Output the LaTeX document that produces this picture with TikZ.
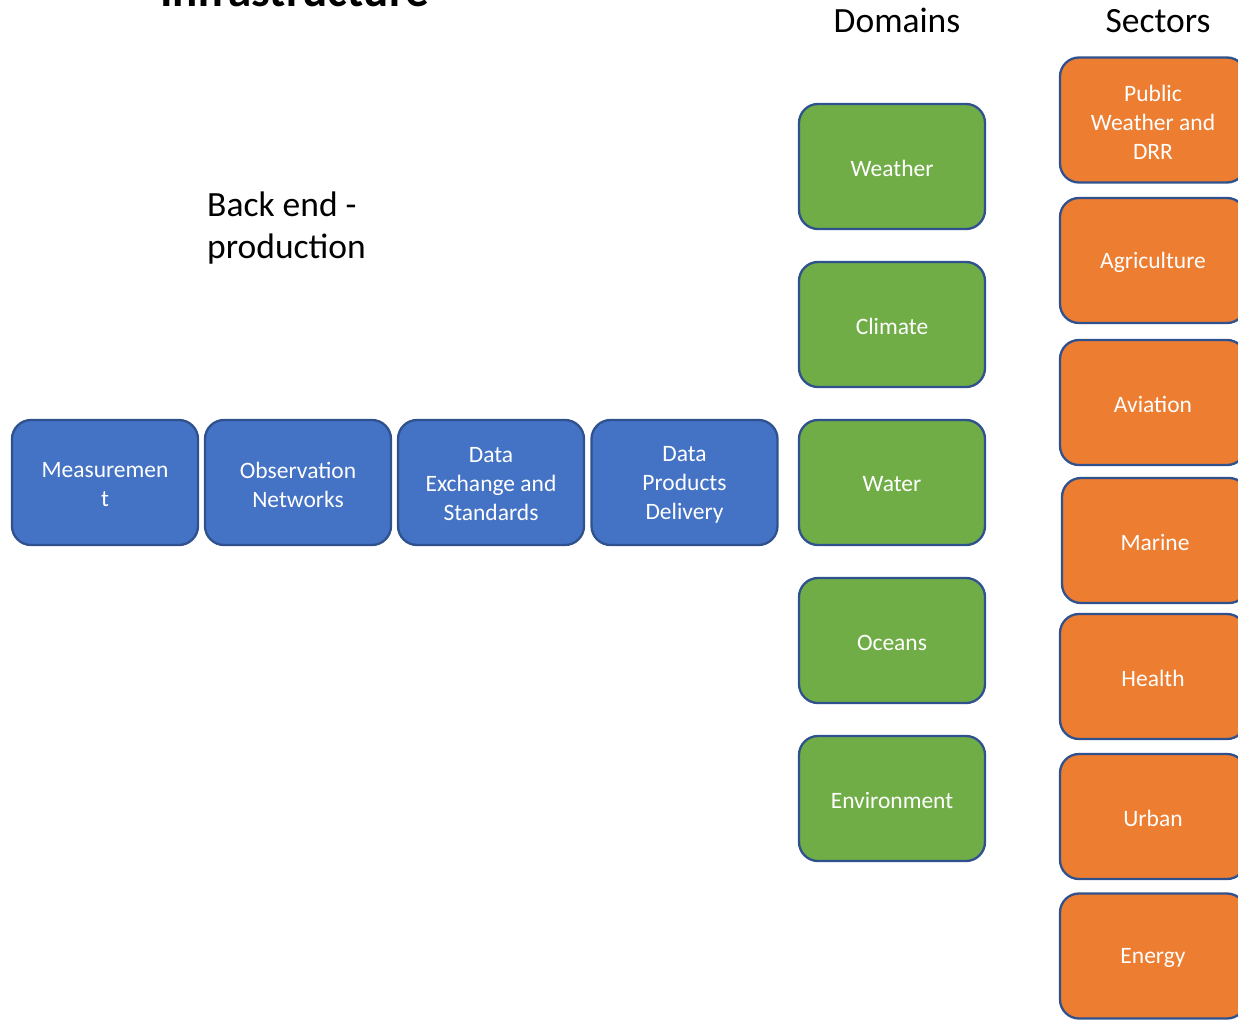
\documentclass[tikz,border=0pt]{standalone}
\usepackage{fontspec}
\setmainfont{Carlito}
\definecolor{bbox}{HTML}{4472C4}
\definecolor{gbox}{HTML}{70AD47}
\definecolor{obox}{HTML}{ED7D31}
\definecolor{edge}{HTML}{2F528F}
\begin{document}
\begin{tikzpicture}[x=1pt,y=1pt,
  box/.style={draw=edge,line width=2.3pt,rounded corners=19pt,minimum width=186pt,minimum height=125pt,inner sep=0pt},
  boxtext/.style={text=white,align=center,inner sep=0pt,yshift=-2pt,font=\fontsize{23.5}{29}\selectfont},
  bluebox/.style={box,fill=bbox},
  greenbox/.style={box,fill=gbox},
  orangebox/.style={box,fill=obox},
  head/.style={font=\fontsize{35.5}{42.5}\selectfont,inner sep=0pt}]
\useasboundingbox (0,0) rectangle (1238,-1019);
\clip (0,0) rectangle (1238,-1019);
% title
\node[anchor=base west,inner sep=0pt,font=\fontsize{47}{56}\selectfont\bfseries] (title) at (160,-7) {Infrastructure};
\node[head,anchor=base] (domains) at (897,-33) {Domains};
\node[head,anchor=base] (sectors) at (1158,-33) {Sectors};
\node[head,anchor=base west] (backend) at (207,-216) {Back end -};
\node[head,anchor=base west] (production) at (207,-258) {production};
% blue row
\node[bluebox,label={[boxtext]center:Measuremen\\t}] (meas) at (105,-482.5) {};
\node[bluebox,label={[boxtext]center:Observation\\Networks}] (obs) at (298,-482.5) {};
\node[bluebox,label={[boxtext]center:Data\\Exchange and\\Standards}] (dex) at (491,-482.5) {};
\node[bluebox,label={[boxtext]center:Data\\Products\\Delivery}] (dpd) at (684.5,-482.5) {};
% green column
\node[greenbox,label={[boxtext]center:Weather}] (weather) at (892,-166.5) {};
\node[greenbox,label={[boxtext]center:Climate}] (climate) at (892,-324.5) {};
\node[greenbox,label={[boxtext]center:Water}] (water) at (892,-482.5) {};
\node[greenbox,label={[boxtext]center:Oceans}] (oceans) at (892,-640.5) {};
\node[greenbox,label={[boxtext]center:Environment}] (env) at (892,-798.5) {};
% orange column
\node[orangebox,label={[boxtext]center:Public\\Weather and\\DRR}] (pub) at (1153,-120) {};
\node[orangebox,label={[boxtext]center:Agriculture}] (agri) at (1153,-260.5) {};
\node[orangebox,label={[boxtext]center:Aviation}] (avia) at (1153,-402.5) {};
\node[orangebox,label={[boxtext]center:Marine}] (marine) at (1155,-540.5) {};
\node[orangebox,label={[boxtext]center:Health}] (health) at (1153,-676.5) {};
\node[orangebox,label={[boxtext]center:Urban}] (urban) at (1153,-816.5) {};
\node[orangebox,label={[boxtext]center:Energy}] (energy) at (1153,-956) {};
\end{tikzpicture}
\end{document}
